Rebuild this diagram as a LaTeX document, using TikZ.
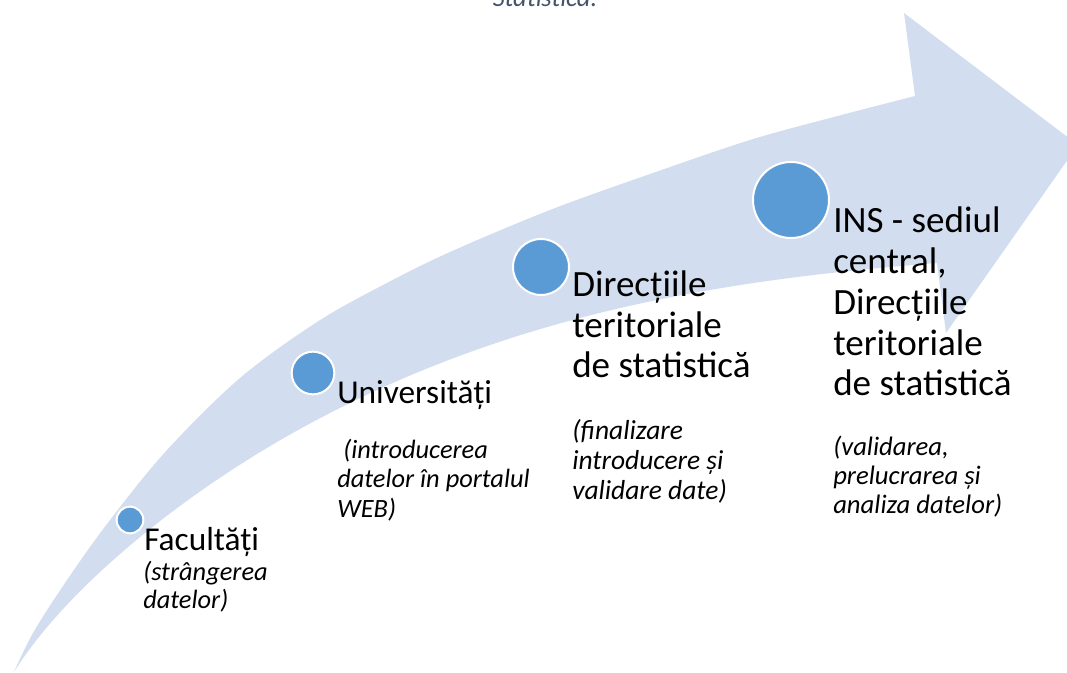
\documentclass[tikz,border=0pt]{standalone}
\usepackage{fontspec}
\setmainfont{Carlito}
\definecolor{arrowfill}{RGB}{210,222,239}
\definecolor{circfill}{RGB}{91,155,213}
\definecolor{titlecol}{RGB}{68,84,106}
\tikzset{
  dot/.style={circle, fill=circfill, draw=white, line width=1.5pt, inner sep=0pt},
  mainlbl/.style={anchor=base west, inner sep=0pt, align=left, font=\fontsize{25}{32.25}\selectfont},
  biglbl/.style={anchor=base west, inner sep=0pt, align=left, font=\fontsize{27.8}{30.6}\selectfont},
  sublbl/.style={anchor=base west, inner sep=0pt, align=left, font=\fontsize{19.8}{22.1}\selectfont\itshape},
}
\begin{document}
\begin{tikzpicture}[x=0.75pt, y=-0.75pt]
\useasboundingbox (0,0) rectangle (1067,673);
\clip (0,0) rectangle (1067,673);
% curved arrow
\fill[arrowfill]
  plot[smooth, tension=0.55] coordinates {(14,672) (33,633) (67,580) (110,520) (167,450) (240,378) (317,322) (383,285) (450,252) (550,210) (650,174) (750,140) (830,118) (915,96)}
  -- (904,13) -- (1078,145) -- (946,333) -- (937,263)
  .. controls (722,280) and (510,313) .. (300,429)
  .. controls (180,495) and (65,590) .. (14,672)
  -- cycle;
% title (cropped)
\node[anchor=base, inner sep=0pt, text=titlecol, font=\fontsize{19.8}{22}\selectfont\itshape] (title) at (545,7) {Statistică.};
% circles
\node[dot, minimum size=20pt] (c1) at (130,520) {};
\node[dot, minimum size=32pt] (c2) at (313,373) {};
\node[dot, minimum size=42pt] (c3) at (541,267) {};
\node[dot, minimum size=57pt] (c4) at (791,200) {};
% labels (anchor = baseline of the last line)
\node[mainlbl] (t1) at (144,550) {Facultăți};
\node[sublbl, font=\fontsize{19.8}{20.6}\selectfont\itshape] (s1) at (143,608) {(strângerea\\datelor)};
\node[mainlbl] (t2) at (337,403) {Universități};
\node[sublbl] (s2) at (337,517) {\hspace{4.5pt}(introducerea\\datelor în portalul\\WEB)};
\node[biglbl] (t3) at (572,378) {Direcțiile\\teritoriale\\de statistică};
\node[sublbl, font=\fontsize{20.6}{22.5}\selectfont\itshape] (s3) at (572,499) {(finalizare\\introducere și\\validare date)};
\node[biglbl] (t4) at (833,396) {INS - sediul\\central,\\Direcțiile\\teritoriale\\de statistică};
\node[sublbl, font=\fontsize{20}{21.4}\selectfont\itshape] (s4) at (833,513) {(validarea,\\prelucrarea și\\analiza datelor)};
\end{tikzpicture}
\end{document}
